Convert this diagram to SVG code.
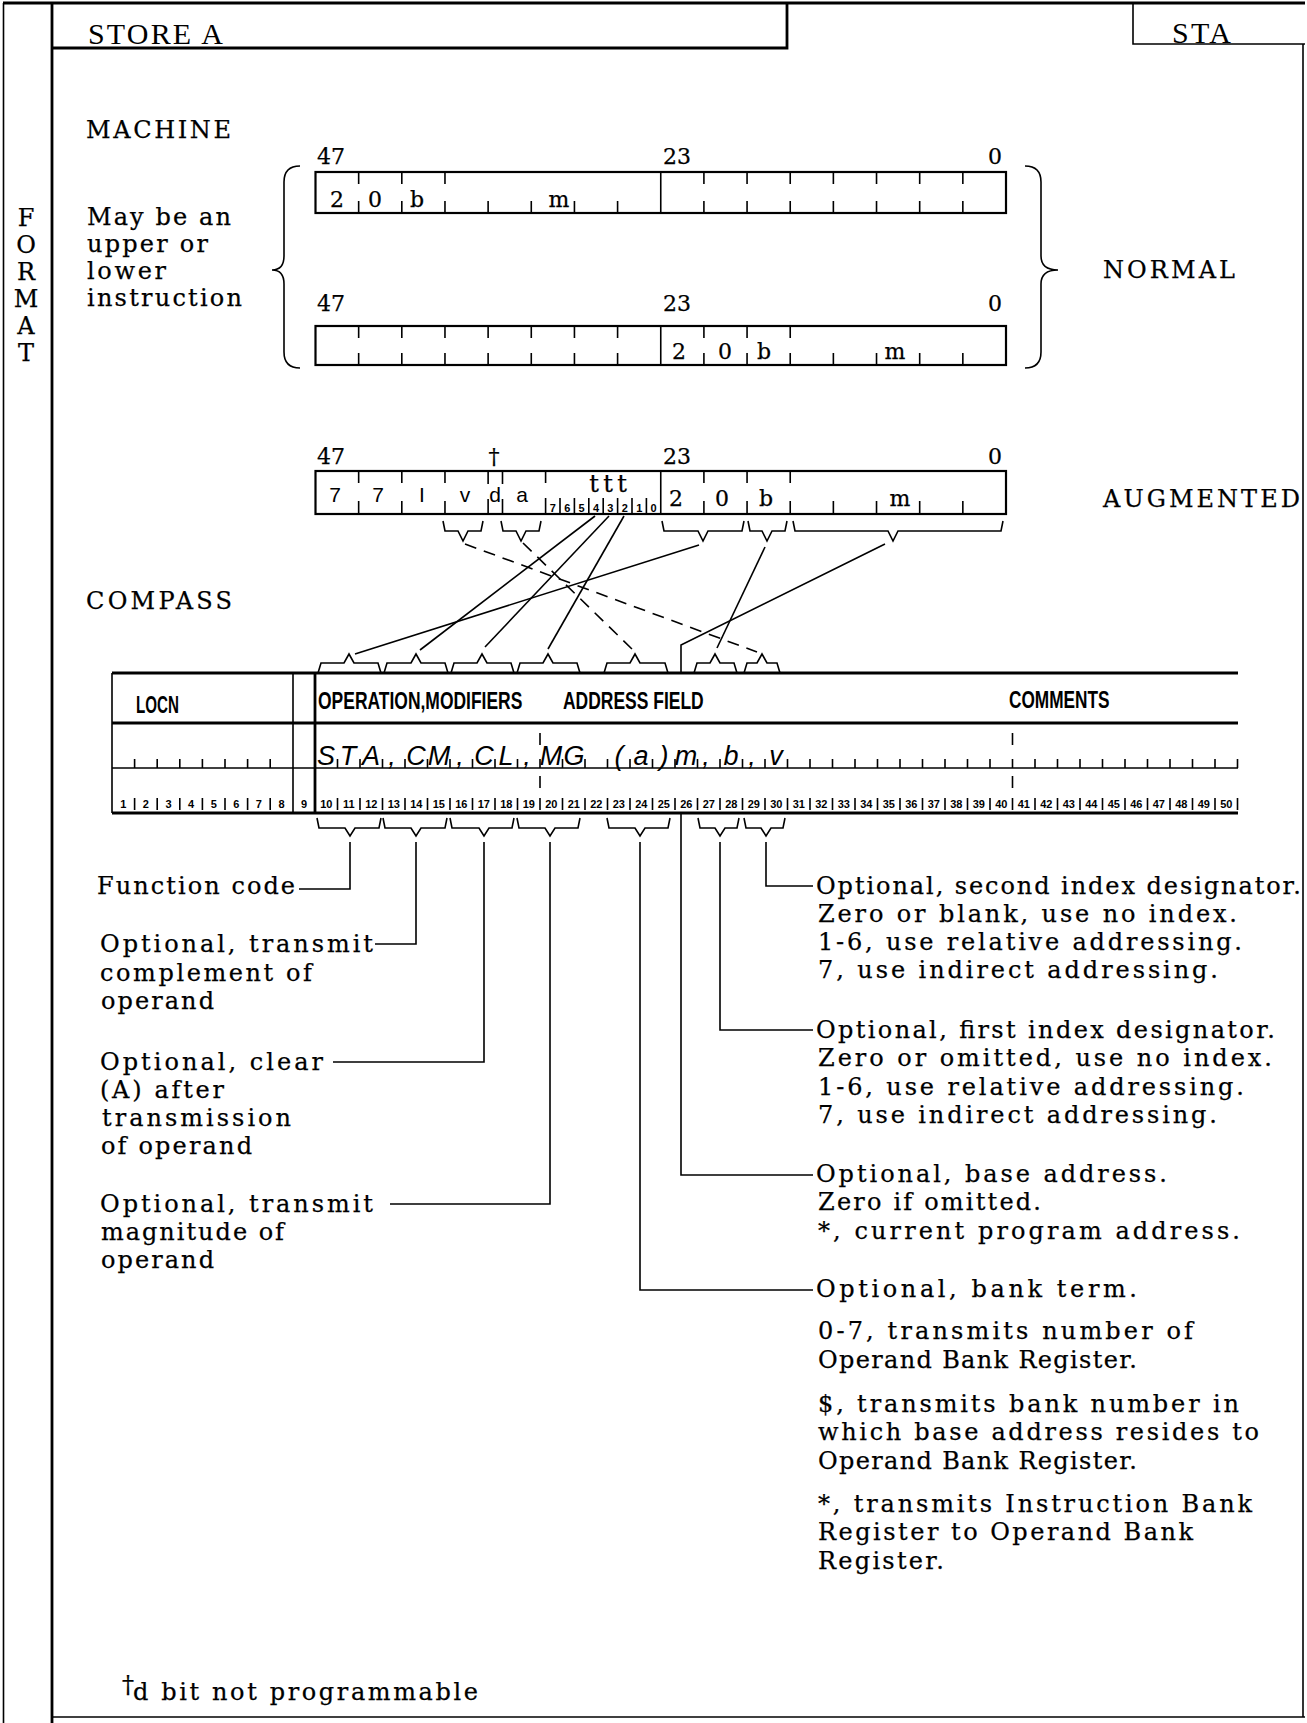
<svg xmlns="http://www.w3.org/2000/svg" width="1307" height="1723" viewBox="0 0 1307 1723">
<style>
.ln{stroke:#000;fill:none;stroke-width:1.6}
.thk{stroke:#000;fill:none;stroke-width:2.8}
.reg{fill:none;stroke:#000;stroke-width:2.2}
.tk{stroke:#000;fill:none;stroke-width:1.6}
.dash{stroke:#000;fill:none;stroke-width:1.6;stroke-dasharray:12 8}
.s{font-family:"DejaVu Serif","Liberation Serif",serif;font-size:24px;fill:#000;stroke:#000;stroke-width:0.25}
.r{font-size:22px}
.hd{font-family:"Liberation Serif",serif;font-size:30px;fill:#000}
.ss{font-family:"Liberation Sans",Arial,sans-serif;font-size:21px;fill:#000;text-anchor:middle}
.tb{font-family:"Liberation Sans",Arial,sans-serif;font-weight:bold;font-size:23px;fill:#000}
.num{font-family:"Liberation Sans",Arial,sans-serif;font-size:11px;font-weight:bold;fill:#000;text-anchor:middle}
.hw{font-family:"Liberation Sans",Arial,sans-serif;font-style:italic;font-size:27px;fill:#000;text-anchor:middle}
.c{text-anchor:middle}
</style>
<rect width="1307" height="1723" fill="#fff"/>

<g id="frame">
  <path class="ln" d="M3.5 3V1723"/>
  <path class="thk" d="M52 3V1723"/>
  <path class="thk" d="M3 3H1305"/>
  <path class="thk" d="M52 48H787V3"/>
  <path class="ln" d="M1133 3V44H1305"/>
  <path class="ln" d="M1303 44V1717"/>
  <path class="ln" d="M52 1717H1305"/>
  <text class="hd" x="88" y="44" textLength="135" lengthAdjust="spacing">STORE A</text>
  <text class="hd" x="1172" y="43" textLength="59" lengthAdjust="spacing">STA</text>
  <text class="s c" font-size="23"><tspan x="26" y="226">F</tspan><tspan x="26" y="253">O</tspan><tspan x="26" y="280">R</tspan><tspan x="26" y="307">M</tspan><tspan x="26" y="334">A</tspan><tspan x="26" y="361">T</tspan></text>
</g>

<g id="machine-labels">
  <text class="s" x="86" y="138" textLength="145" lengthAdjust="spacing">MACHINE</text>
  <text class="s" x="87" y="225" textLength="144" lengthAdjust="spacing">May be an</text>
  <text class="s" x="87" y="252" textLength="121" lengthAdjust="spacing">upper or</text>
  <text class="s" x="87" y="279" textLength="79" lengthAdjust="spacing">lower</text>
  <text class="s" x="87" y="306" textLength="155" lengthAdjust="spacing">instruction</text>
  <path class="ln" d="M300 166Q284 166 284 182V256Q284 270 272 270Q284 270 284 284V352Q284 368 300 368"/>
  <path class="ln" d="M1025 166Q1041 166 1041 182V256Q1041 270 1058 270Q1041 270 1041 284V352Q1041 368 1025 368"/>
  <text class="s" x="1103" y="278" textLength="132" lengthAdjust="spacing">NORMAL</text>
</g>

<g id="register-upper">
  <text class="s r" x="317" y="164">47</text>
  <text class="s r" x="663" y="164">23</text>
  <text class="s r" x="988" y="164">0</text>
  <rect class="reg" x="315.5" y="172" width="690.5" height="41"/>
  <path class="tk" d="M660.75 172V213
  M358.66 172v12M401.81 172v12M444.97 172v12
  M703.91 172v12M747.06 172v12M790.22 172v12M833.37 172v12M876.53 172v12M919.69 172v12M962.84 172v12
  M358.66 213v-12M401.81 213v-12M444.97 213v-12M488.12 213v-12M531.28 213v-12M574.44 213v-12M617.59 213v-12
  M703.91 213v-12M747.06 213v-12M790.22 213v-12M833.37 213v-12M876.53 213v-12M919.69 213v-12M962.84 213v-12"/>
  <text class="s r c" x="337" y="207">2</text>
  <text class="s r c" x="375" y="207">0</text>
  <text class="s r c" x="417" y="207">b</text>
  <text class="s r c" x="559" y="207">m</text>
</g>

<g id="register-lower">
  <text class="s r" x="317" y="311">47</text>
  <text class="s r" x="663" y="311">23</text>
  <text class="s r" x="988" y="311">0</text>
  <rect class="reg" x="315.5" y="326" width="690.5" height="39"/>
  <path class="tk" d="M660.75 326V365
  M358.66 326v12M401.81 326v12M444.97 326v12M488.12 326v12M531.28 326v12M574.44 326v12M617.59 326v12
  M703.91 326v12M747.06 326v12M790.22 326v12
  M358.66 365v-12M401.81 365v-12M444.97 365v-12M488.12 365v-12M531.28 365v-12M574.44 365v-12M617.59 365v-12
  M703.91 365v-12M747.06 365v-12M790.22 365v-12M833.37 365v-12M876.53 365v-12M919.69 365v-12M962.84 365v-12"/>
  <text class="s r c" x="679" y="359">2</text>
  <text class="s r c" x="725" y="359">0</text>
  <text class="s r c" x="764" y="359">b</text>
  <text class="s r c" x="895" y="359">m</text>
</g>

<g id="register-augmented">
  <text class="s r" x="317" y="464">47</text>
  <text class="s r c" x="494" y="464">†</text>
  <text class="s r" x="663" y="464">23</text>
  <text class="s r" x="988" y="464">0</text>
  <rect class="reg" x="315.5" y="471" width="690.5" height="43"/>
  <path class="tk" d="M660.75 471V514
  M358.66 471v12M401.81 471v12M444.97 471v12M488.12 471v13M502.5 471v13M545.6 471v12
  M703.91 471v12M747.06 471v12M790.22 471v12
  M358.66 514v-13M401.81 514v-13M444.97 514v-13M488.12 514v-15M502.5 514v-15
  M545.6 514v-16M560 514v-16M574.4 514v-16M588.8 514v-16M603.2 514v-16M617.6 514v-16M632 514v-16M646.4 514v-16
  M703.91 514v-13M747.06 514v-13M790.22 514v-13M833.37 514v-13M876.53 514v-13M919.69 514v-13M962.84 514v-13"/>
  <text class="ss" x="335" y="502">7</text>
  <text class="ss" x="378" y="502">7</text>
  <text class="ss" x="422" y="502">I</text>
  <text class="ss" x="465" y="502">v</text>
  <text class="ss" x="495" y="502">d</text>
  <text class="ss" x="522" y="502">a</text>
  <text class="s c" font-size="20" x="594" y="492">t</text>
  <text class="s c" font-size="20" x="608" y="492">t</text>
  <text class="s c" font-size="20" x="622" y="492">t</text>
  <text class="num" font-size="11" y="512"><tspan x="552.8">7</tspan><tspan x="567.2">6</tspan><tspan x="581.6">5</tspan><tspan x="596">4</tspan><tspan x="610.4">3</tspan><tspan x="624.8">2</tspan><tspan x="639.2">1</tspan><tspan x="653.6">0</tspan></text>
  <text class="s r c" x="676" y="506">2</text>
  <text class="s r c" x="722" y="506">0</text>
  <text class="s r c" x="766" y="506">b</text>
  <text class="s r c" x="900" y="506">m</text>
  <text class="s" x="1103" y="507" textLength="197" lengthAdjust="spacing">AUGMENTED</text>
</g>

<g id="compass-label">
  <text class="s" x="86" y="609" textLength="146" lengthAdjust="spacing">COMPASS</text>
</g>

<g id="coding-form">
  <path class="thk" d="M112 673H1238"/>
  <path class="thk" d="M112 723H1238" stroke-width="2.4"/>
  <path class="ln" d="M112 768H1238" stroke-width="1.3"/>
  <path class="thk" d="M112 813H1238" stroke-width="2.2"/>
  <path class="ln" d="M112 673V813M293 673V813" stroke-width="2"/>
  <path class="thk" d="M315 673V813"/>
  <text class="tb" transform="translate(136 713) scale(0.66 1)">LOCN</text>
  <text class="tb" transform="translate(318 709) scale(0.76 1)">OPERATION,MODIFIERS</text>
  <text class="tb" transform="translate(563 709) scale(0.76 1)">ADDRESS FIELD</text>
  <text class="tb" transform="translate(1009 708) scale(0.75 1)">COMMENTS</text>
  <path class="tk" stroke-width="1.2" d="M134.6 759v9M157.2 759v9M179.8 759v9M202.4 759v9M225 759v9M247.6 759v9M270.2 759v9
  M337.5 759v9M360 759v9M382.5 759v9M405 759v9M427.5 759v9M450 759v9M472.5 759v9M495 759v9M517.5 759v9M540 759v9
  M562.5 759v9M585 759v9M607.5 759v9M630 759v9M652.5 759v9M675 759v9M697.5 759v9M720 759v9M742.5 759v9M765 759v9
  M787.5 759v9M810 759v9M832.5 759v9M855 759v9M877.5 759v9M900 759v9M922.5 759v9M945 759v9M967.5 759v9M990 759v9
  M1012.5 759v9M1035 759v9M1057.5 759v9M1080 759v9M1102.5 759v9M1125 759v9M1147.5 759v9M1170 759v9M1192.5 759v9M1215 759v9M1237.5 759v9"/>
  <path class="tk" stroke-width="1.2" d="M134.6 798v12M157.2 798v12M179.8 798v12M202.4 798v12M225 798v12M247.6 798v12M270.2 798v12
  M337.5 798v12M360 798v12M382.5 798v12M405 798v12M427.5 798v12M450 798v12M472.5 798v12M495 798v12M517.5 798v12M540 798v12
  M562.5 798v12M585 798v12M607.5 798v12M630 798v12M652.5 798v12M675 798v12M697.5 798v12M720 798v12M742.5 798v12M765 798v12
  M787.5 798v12M810 798v12M832.5 798v12M855 798v12M877.5 798v12M900 798v12M922.5 798v12M945 798v12M967.5 798v12M990 798v12
  M1012.5 798v12M1035 798v12M1057.5 798v12M1080 798v12M1102.5 798v12M1125 798v12M1147.5 798v12M1170 798v12M1192.5 798v12M1215 798v12M1237.5 798v12"/>
  <path class="tk" stroke-width="1.2" d="M540 733v12M540 776v12M1012.5 733v12M1012.5 776v12"/>
  <text class="num" y="808"><tspan x="123.3">1</tspan><tspan x="145.9">2</tspan><tspan x="168.5">3</tspan><tspan x="191.1">4</tspan><tspan x="213.7">5</tspan><tspan x="236.3">6</tspan><tspan x="258.9">7</tspan><tspan x="281.6">8</tspan><tspan x="304">9</tspan><tspan x="326.25">10</tspan><tspan x="348.75">11</tspan><tspan x="371.25">12</tspan><tspan x="393.75">13</tspan><tspan x="416.25">14</tspan><tspan x="438.75">15</tspan><tspan x="461.25">16</tspan><tspan x="483.75">17</tspan><tspan x="506.25">18</tspan><tspan x="528.75">19</tspan><tspan x="551.25">20</tspan><tspan x="573.75">21</tspan><tspan x="596.25">22</tspan><tspan x="618.75">23</tspan><tspan x="641.25">24</tspan><tspan x="663.75">25</tspan><tspan x="686.25">26</tspan><tspan x="708.75">27</tspan><tspan x="731.25">28</tspan><tspan x="753.75">29</tspan><tspan x="776.25">30</tspan><tspan x="798.75">31</tspan><tspan x="821.25">32</tspan><tspan x="843.75">33</tspan><tspan x="866.25">34</tspan><tspan x="888.75">35</tspan><tspan x="911.25">36</tspan><tspan x="933.75">37</tspan><tspan x="956.25">38</tspan><tspan x="978.75">39</tspan><tspan x="1001.25">40</tspan><tspan x="1023.75">41</tspan><tspan x="1046.25">42</tspan><tspan x="1068.75">43</tspan><tspan x="1091.25">44</tspan><tspan x="1113.75">45</tspan><tspan x="1136.25">46</tspan><tspan x="1158.75">47</tspan><tspan x="1181.25">48</tspan><tspan x="1203.75">49</tspan><tspan x="1226.25">50</tspan></text>
  <text class="hw" x="326 348 371 392 416 439 460 484 506 527 551 574 619 641 664 686 706 731 752 776" y="765">STA,CM,CL,MG(a)m,b,v</text>
</g>

<g id="left-notes">
  <text class="s" x="97" y="894" textLength="198" lengthAdjust="spacing">Function code</text>
  <text class="s" x="100" y="952" textLength="273" lengthAdjust="spacing">Optional, transmit</text>
  <text class="s" x="100" y="981" textLength="212" lengthAdjust="spacing">complement of</text>
  <text class="s" x="101" y="1009" textLength="113" lengthAdjust="spacing">operand</text>
  <text class="s" x="100" y="1070" textLength="223" lengthAdjust="spacing">Optional, clear</text>
  <text class="s" x="100" y="1098" textLength="124" lengthAdjust="spacing">(A) after</text>
  <text class="s" x="102" y="1126" textLength="189" lengthAdjust="spacing">transmission</text>
  <text class="s" x="101" y="1154" textLength="151" lengthAdjust="spacing">of operand</text>
  <text class="s" x="100" y="1212" textLength="273" lengthAdjust="spacing">Optional, transmit</text>
  <text class="s" x="101" y="1240" textLength="183" lengthAdjust="spacing">magnitude of</text>
  <text class="s" x="101" y="1268" textLength="113" lengthAdjust="spacing">operand</text>
</g>

<g id="right-notes">
  <text class="s" x="816" y="894" textLength="485" lengthAdjust="spacing">Optional, second index designator.</text>
  <text class="s" x="818" y="922" textLength="419" lengthAdjust="spacing">Zero or blank, use no index.</text>
  <text class="s" x="818" y="950" textLength="424" lengthAdjust="spacing">1-6, use relative addressing.</text>
  <text class="s" x="818" y="978" textLength="400" lengthAdjust="spacing">7, use indirect addressing.</text>
  <text class="s" x="816" y="1038" textLength="459" lengthAdjust="spacing">Optional, first index designator.</text>
  <text class="s" x="818" y="1066" textLength="454" lengthAdjust="spacing">Zero or omitted, use no index.</text>
  <text class="s" x="818" y="1095" textLength="426" lengthAdjust="spacing">1-6, use relative addressing.</text>
  <text class="s" x="818" y="1123" textLength="399" lengthAdjust="spacing">7, use indirect addressing.</text>
  <text class="s" x="816" y="1182" textLength="351" lengthAdjust="spacing">Optional, base address.</text>
  <text class="s" x="818" y="1210" textLength="223" lengthAdjust="spacing">Zero if omitted.</text>
  <text class="s" x="818" y="1239" textLength="422" lengthAdjust="spacing">*, current program address.</text>
  <text class="s" x="816" y="1297" textLength="321" lengthAdjust="spacing">Optional, bank term.</text>
  <text class="s" x="818" y="1339" textLength="375" lengthAdjust="spacing">0-7, transmits number of</text>
  <text class="s" x="818" y="1368" textLength="319" lengthAdjust="spacing">Operand Bank Register.</text>
  <text class="s" x="818" y="1412" textLength="421" lengthAdjust="spacing">$, transmits bank number in</text>
  <text class="s" x="818" y="1440" textLength="441" lengthAdjust="spacing">which base address resides to</text>
  <text class="s" x="818" y="1469" textLength="319" lengthAdjust="spacing">Operand Bank Register.</text>
  <text class="s" x="818" y="1512" textLength="434" lengthAdjust="spacing">*, transmits Instruction Bank</text>
  <text class="s" x="818" y="1540" textLength="375" lengthAdjust="spacing">Register to Operand Bank</text>
  <text class="s" x="818" y="1569" textLength="126" lengthAdjust="spacing">Register.</text>
</g>

<g id="footnote">
  <text class="s" x="122" y="1693" font-size="16">†</text>
  <text class="s" x="133" y="1700" textLength="345" lengthAdjust="spacing">d bit not programmable</text>
</g>

<g id="connectors">
  <path class="ln" d="M443 521L445 531H458L463 541L468 531H481L483 521"/>
  <path class="ln" d="M501 521L503 531H516L521 541L526 531H539L541 521"/>
  <path class="ln" d="M662 521L664 531H698L703 541L708 531H742L744 521"/>
  <path class="ln" d="M748 521L750 531H762L767 541L772 531H785L787 521"/>
  <path class="ln" d="M793 521L795 531H888L893 541L898 531H1001L1003 521"/>
  <path class="ln" d="M318 673L321 663H344L349 654L354 663H378L381 673"/>
  <path class="ln" d="M384 673L387 663H411L416 654L421 663H445L448 673"/>
  <path class="ln" d="M451 673L454 663H477L482 654L487 663H511L514 673"/>
  <path class="ln" d="M517 673L520 663H543L548 654L553 663H577L580 673"/>
  <path class="ln" d="M604 673L607 663H630L635 654L640 663H665L668 673"/>
  <path class="ln" d="M694 673L697 663H710L715 654L720 663H734L737 673"/>
  <path class="ln" d="M744 673L747 663H757L762 654L767 663H777L780 673"/>
  <path class="ln" d="M595 516L420 650"/>
  <path class="ln" d="M609 516L485 647"/>
  <path class="ln" d="M624 516L548 649"/>
  <path class="ln" d="M699 545L355 654"/>
  <path class="dash" d="M465 544L757 652"/>
  <path class="dash" d="M523 543L633 650"/>
  <path class="ln" d="M765 547L717 648"/>
  <path class="ln" d="M885 544L681 645V673"/>
  <path class="ln" d="M317 818L319 828H345L350 836L355 828H379L381 818"/>
  <path class="ln" d="M383 818L385 828H411L416 836L421 828H445L447 818"/>
  <path class="ln" d="M450 818L452 828H479L484 836L489 828H512L514 818"/>
  <path class="ln" d="M517 818L519 828H545L550 836L555 828H578L580 818"/>
  <path class="ln" d="M607 818L609 828H635L640 836L645 828H668L670 818"/>
  <path class="ln" d="M698 818L700 828H715L720 836L725 828H737L739 818"/>
  <path class="ln" d="M744 818L746 828H761L766 836L771 828H783L785 818"/>
  <path class="ln" d="M350 842V889H299"/>
  <path class="ln" d="M416 842V944H375"/>
  <path class="ln" d="M484 842V1062H333"/>
  <path class="ln" d="M550 842V1204H390"/>
  <path class="ln" d="M640 842V1290H813"/>
  <path class="ln" d="M681 813V1175H813"/>
  <path class="ln" d="M720 842V1030H813"/>
  <path class="ln" d="M766 842V886H813"/>
</g>
</svg>
